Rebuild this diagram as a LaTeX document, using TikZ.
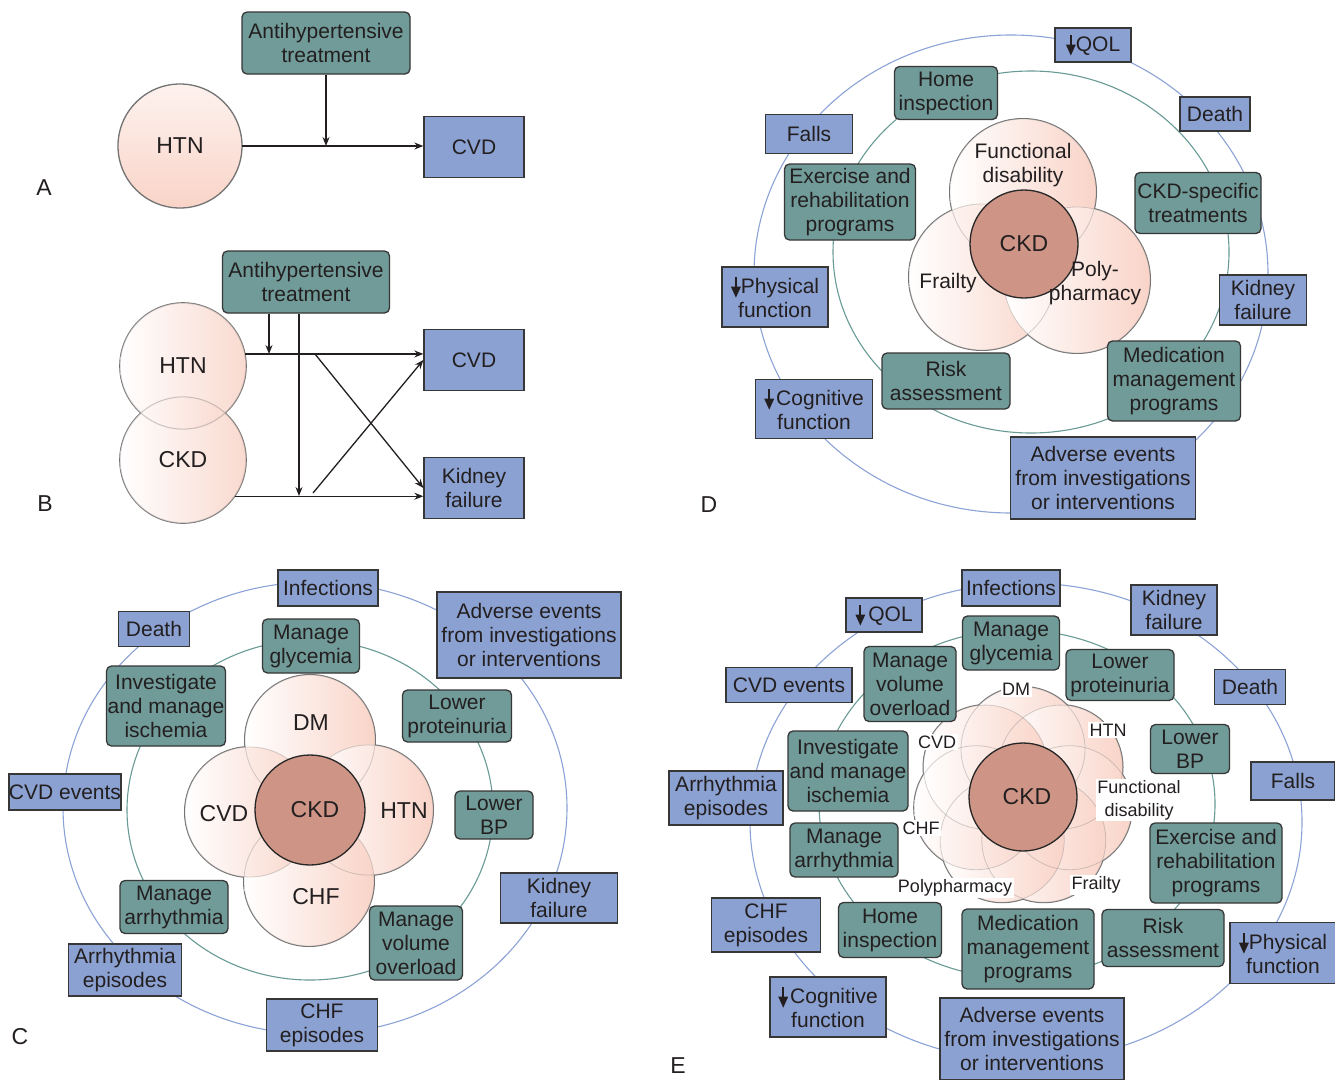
\documentclass[tikz,border=0pt]{standalone}
\usepackage{fontspec}
\setmainfont{Liberation Sans}
\usetikzlibrary{arrows.meta}
\definecolor{tealc}{RGB}{112,155,152}
\definecolor{bluec}{RGB}{139,161,209}
\definecolor{ringblue}{RGB}{140,163,215}
\definecolor{ringteal}{RGB}{105,155,150}
\definecolor{pinkc}{RGB}{249,212,200}
\definecolor{ckdc}{RGB}{206,149,134}
\definecolor{bordc}{RGB}{55,55,55}
\definecolor{textc}{RGB}{35,31,32}
\definecolor{venngray}{RGB}{115,115,115}
\newcommand\darr{\tikz[baseline=0pt,x=1pt,y=1pt]{\fill[textc] (-1.1,5) rectangle (1.1,16.5); \fill[textc] (-5,6.5) -- (5,6.5) -- (0,-4.5) -- cycle;}}
\begin{document}
\begin{tikzpicture}[x=1pt,y=-1pt,
  bx/.style={draw=bordc, line width=1.3pt, text=textc, align=center, inner sep=0pt, font=\fontsize{21}{24}\selectfont},
  tealbox/.style={bx, fill=tealc, rounded corners=5pt},
  bluebox/.style={bx, fill=bluec},
  ringb/.style={draw=ringblue, line width=1.1pt},
  ringt/.style={draw=ringteal, line width=1.1pt},
  vdark/.style={draw=venngray, line width=2pt},
  vlight/.style={draw=gray, draw opacity=0.35, line width=0.8pt},
  vshade/.style={left color=white, right color=pinkc},
  ckdnode/.style={circle, draw=black!85, line width=1.3pt, fill=ckdc, text=textc, font=\fontsize{23}{26}\selectfont, inner sep=0pt},
  lbl/.style={text=textc, font=\fontsize{23}{26}\selectfont, align=center, inner sep=0pt},
  lblm/.style={text=textc, font=\fontsize{21}{24}\selectfont, align=center, inner sep=0pt},
  slbl/.style={text=textc, font=\fontsize{18}{23}\selectfont, align=center, fill=white, inner sep=1.5pt},
  letter/.style={text=textc, font=\fontsize{23}{26}\selectfont, inner sep=0pt},
  arr/.style={draw=textc, line width=1.3pt, -{Stealth[length=9pt,width=7pt]}},
]
\useasboundingbox (0,0) rectangle (1335,1079);
\fill[white] (0,0) rectangle (1335,1079);

% ================= Panel A =================
\draw[vdark, line width=1.3pt, top color=pinkc!30, bottom color=pinkc] (180,146) circle[radius=62pt];
\node[lbl, circle, minimum size=124pt] (htnA) at (180,146) {HTN};
\node[tealbox, minimum width=168pt, minimum height=62pt] (antiA) at (326,43) {Antihypertensive\\treatment};
\node[bluebox, minimum width=100pt, minimum height=61pt] (cvdA) at (474,147) {CVD};
\coordinate (jA) at (antiA.south |- htnA.east);
\draw[arr] (htnA.east) -- (cvdA.west |- htnA.east);
\draw[arr] (antiA.south) -- (jA);
\node[letter] (lA) at (44,188) {A};

% ================= Panel B =================
\foreach \cy in {366,460} \draw[vdark, line width=1.6pt] (183,\cy) circle[radius=63pt];
\foreach \cy in {366,460} \shade[vshade, fill opacity=0.85] (183,\cy) circle[radius=63pt];
\foreach \cy in {366,460} \draw[vlight] (183,\cy) circle[radius=63pt];
\node[lbl, circle, minimum size=126pt] (htnB) at (183,366) {HTN};
\node[lbl, circle, minimum size=126pt] (ckdB) at (183,460) {CKD};
\node[tealbox, minimum width=167pt, minimum height=62pt] (antiB) at (306,282) {Antihypertensive\\treatment};
\node[bluebox, minimum width=100pt, minimum height=61pt] (cvdB) at (474,360) {CVD};
\node[bluebox, minimum width=100pt, minimum height=61pt] (kfB) at (474,488) {Kidney\\failure};
\coordinate (j1) at (269,354);
\coordinate (j2) at (299,496);
\coordinate (x1) at (315,354);
\coordinate (x2) at (313,493);
\draw[arr] (htnB.11) -- (cvdB.west |- htnB.11);
\draw[arr] (ckdB.-35) -- (kfB.west |- ckdB.-35);
\draw[arr] (antiB.south -| j1) -- (j1);
\draw[arr] (antiB.south -| j2) -- (j2);
\draw[arr] (x1) -- (kfB.west);
\draw[arr] (x2) -- (cvdB.west);
\node[letter] (lB) at (45,504) {B};

% ================= Panel C =================
\draw[ringb] (315,808) ellipse[x radius=252pt, y radius=226pt];
\draw[ringt] (310,810) ellipse[x radius=183pt, y radius=170pt];
\foreach \x/\y in {310/740,368/810,309/881,250/812} \draw[vdark] (\x,\y) circle[radius=65pt];
\foreach \x/\y in {310/740,368/810,309/881,250/812} \shade[vshade] (\x,\y) circle[radius=65pt];
\foreach \x/\y in {310/740,368/810,309/881,250/812} \draw[vlight] (\x,\y) circle[radius=65pt];
\node[ckdnode, minimum size=110pt] (ckdC) at (310,810) {\hspace*{10pt}CKD};
\node[lbl] (dmC) at (311,723) {DM};
\node[lbl] (cvdC) at (224,814) {CVD};
\node[lbl] (htnC) at (404,811) {HTN};
\node[lbl] (chfC) at (316,897) {CHF};

\node[bluebox, minimum width=100pt, minimum height=36pt] (infC) at (328,588) {Infections};
\node[bluebox, minimum width=71pt, minimum height=35pt] (deathC) at (154,629) {Death};
\node[bluebox, minimum width=184pt, minimum height=86pt] (advC) at (529,635) {Adverse events\\from investigations\\or interventions};
\node[tealbox, minimum width=97pt, minimum height=54pt] (glyC) at (311,646) {Manage\\glycemia};
\node[tealbox, minimum width=119pt, minimum height=80pt] (ischC) at (166,706) {Investigate\\and manage\\ischemia};
\node[tealbox, minimum width=109pt, minimum height=52pt] (protC) at (457,716) {Lower\\proteinuria};
\node[bluebox, minimum width=112pt, minimum height=36pt] (cvdeC) at (65,792) {CVD events};
\node[tealbox, minimum width=78pt, minimum height=48pt] (bpC) at (494,815) {Lower\\BP};
\node[bluebox, minimum width=117pt, minimum height=50pt] (kfC) at (559,898) {Kidney\\failure};
\node[tealbox, minimum width=108pt, minimum height=53pt] (arrC) at (174,907) {Manage\\arrhythmia};
\node[tealbox, minimum width=93pt, minimum height=74pt] (volC) at (416,943) {Manage\\volume\\overload};
\node[bluebox, minimum width=113pt, minimum height=52pt] (arepC) at (125,970) {Arrhythmia\\episodes};
\node[bluebox, minimum width=111pt, minimum height=52pt] (chfeC) at (322,1025) {CHF\\episodes};
\node[letter] (lC) at (20,1037) {C};

% ================= Panel D =================
\draw[ringb] (1011,274) ellipse[x radius=257pt, y radius=239pt];
\draw[ringt] (1031,252) ellipse[x radius=198pt, y radius=181pt];
\foreach \x/\y in {1023/192,982/277,1077/280} \draw[vdark] (\x,\y) circle[radius=73pt];
\foreach \x/\y in {1023/192,982/277,1077/280} \shade[vshade] (\x,\y) circle[radius=73pt];
\foreach \x/\y in {1023/192,982/277,1077/280} \draw[vlight] (\x,\y) circle[radius=73pt];
\node[ckdnode, minimum size=108pt] (ckdD) at (1024,244) {CKD};
\node[lblm] (fdD) at (1023,165) {Functional\\disability};
\node[lblm] (frD) at (948,283) {Frailty};
\node[lblm] (ppD) at (1095,283) {Poly-\\pharmacy};

\node[bluebox, minimum width=76pt, minimum height=34pt] (qolD) at (1093,45) {\darr QOL};
\node[tealbox, minimum width=103pt, minimum height=53pt] (homeD) at (946,93) {Home\\inspection};
\node[bluebox, minimum width=70pt, minimum height=34pt] (deathD) at (1215,114) {Death};
\node[bluebox, minimum width=87pt, minimum height=39pt] (fallsD) at (809,134) {Falls};
\node[tealbox, minimum width=131pt, minimum height=76pt] (exD) at (850,202) {Exercise and\\rehabilitation\\programs};
\node[tealbox, minimum width=126pt, minimum height=61pt] (ckdsD) at (1198,203) {CKD-specific\\treatments};
\node[bluebox, minimum width=106pt, minimum height=60pt] (physD) at (775,297) {\darr Physical\\function};
\node[bluebox, minimum width=87pt, minimum height=50pt] (kfD) at (1263,300) {Kidney\\failure};
\node[tealbox, minimum width=128pt, minimum height=56pt] (riskD) at (946,381) {Risk\\assessment};
\node[tealbox, minimum width=133pt, minimum height=80pt] (medD) at (1174,381) {Medication\\management\\programs};
\node[bluebox, minimum width=117pt, minimum height=59pt] (cogD) at (814,409) {\darr\hspace{2pt}Cognitive\\function};
\node[bluebox, minimum width=185pt, minimum height=82pt] (advD) at (1103,478) {Adverse events\\from investigations\\or interventions};
\node[letter] (lD) at (709,505) {D};

% ================= Panel E =================
\draw[ringb] (1026,822) ellipse[x radius=276pt, y radius=239pt];
\draw[ringt] (1017,804) ellipse[x radius=198pt, y radius=174pt];
\def\petals{1023/749,1060.5/767.1,1069.8/807.7,1043.8/840.2,1002.2/840.2,976.2/807.7,985.5/767.1}
\foreach \x/\y in \petals \draw[vdark] (\x,\y) circle[radius=62pt];
\foreach \x/\y in \petals \shade[vshade] (\x,\y) circle[radius=62pt];
\foreach \x/\y in \petals \draw[vlight] (\x,\y) circle[radius=62pt];
\node[ckdnode, minimum size=108pt] (ckdE) at (1023,797) {\hspace*{8pt}CKD};
\node[slbl] (dmE) at (1016,689) {DM};
\node[slbl] (htnE) at (1108,730) {HTN};
\node[slbl] (cvdE) at (937,742) {CVD};
\node[slbl] (fdE) at (1139,800) {Functional\\disability};
\node[slbl] (chfE) at (921,828) {CHF};
\node[slbl] (ppE) at (955,888) {Polypharmacy};
\node[slbl] (frE) at (1096,885) {Frailty};

\node[bluebox, minimum width=98pt, minimum height=36pt] (infE) at (1011,588) {Infections};
\node[bluebox, minimum width=76pt, minimum height=34pt] (qolE) at (884,615) {\darr\hspace{3pt}QOL};
\node[bluebox, minimum width=86pt, minimum height=50pt] (kfE) at (1174,610) {Kidney\\failure};
\node[tealbox, minimum width=97pt, minimum height=54pt] (glyE) at (1011,643) {Manage\\glycemia};
\node[tealbox, minimum width=92pt, minimum height=75pt] (volE) at (910,684) {Manage\\volume\\overload};
\node[tealbox, minimum width=108pt, minimum height=51pt] (protE) at (1120,675) {Lower\\proteinuria};
\node[bluebox, minimum width=126pt, minimum height=35pt] (cvdeE) at (789,685) {CVD events};
\node[bluebox, minimum width=71pt, minimum height=35pt] (deathE) at (1250,687) {Death};
\node[tealbox, minimum width=120pt, minimum height=80pt] (ischE) at (848,771) {Investigate\\and manage\\ischemia};
\node[tealbox, minimum width=79pt, minimum height=49pt] (bpE) at (1190,749) {Lower\\BP};
\node[bluebox, minimum width=84pt, minimum height=38pt] (fallsE) at (1293,781) {Falls};
\node[bluebox, minimum width=114pt, minimum height=54pt] (arepE) at (726,798) {Arrhythmia\\episodes};
\node[tealbox, minimum width=108pt, minimum height=54pt] (arrE) at (844,850) {Manage\\arrhythmia};
\node[tealbox, minimum width=132pt, minimum height=80pt] (exE) at (1216,863) {Exercise and\\rehabilitation\\programs};
\node[bluebox, minimum width=109pt, minimum height=54pt] (chfeE) at (766,925) {CHF\\episodes};
\node[tealbox, minimum width=103pt, minimum height=55pt] (homeE) at (890,930) {Home\\inspection};
\node[tealbox, minimum width=132pt, minimum height=80pt] (medE) at (1028,949) {Medication\\management\\programs};
\node[tealbox, minimum width=122pt, minimum height=57pt] (riskE) at (1163,938) {Risk\\assessment};
\node[bluebox, minimum width=106pt, minimum height=61pt] (physE) at (1283,953) {\darr Physical\\function};
\node[bluebox, minimum width=116pt, minimum height=60pt] (cogE) at (828,1007) {\darr\hspace{2pt}Cognitive\\function};
\node[bluebox, minimum width=184pt, minimum height=82pt] (advE) at (1032,1039) {Adverse events\\from investigations\\or interventions};
\node[letter] (lE) at (678,1066) {E};
\end{tikzpicture}
\end{document}
